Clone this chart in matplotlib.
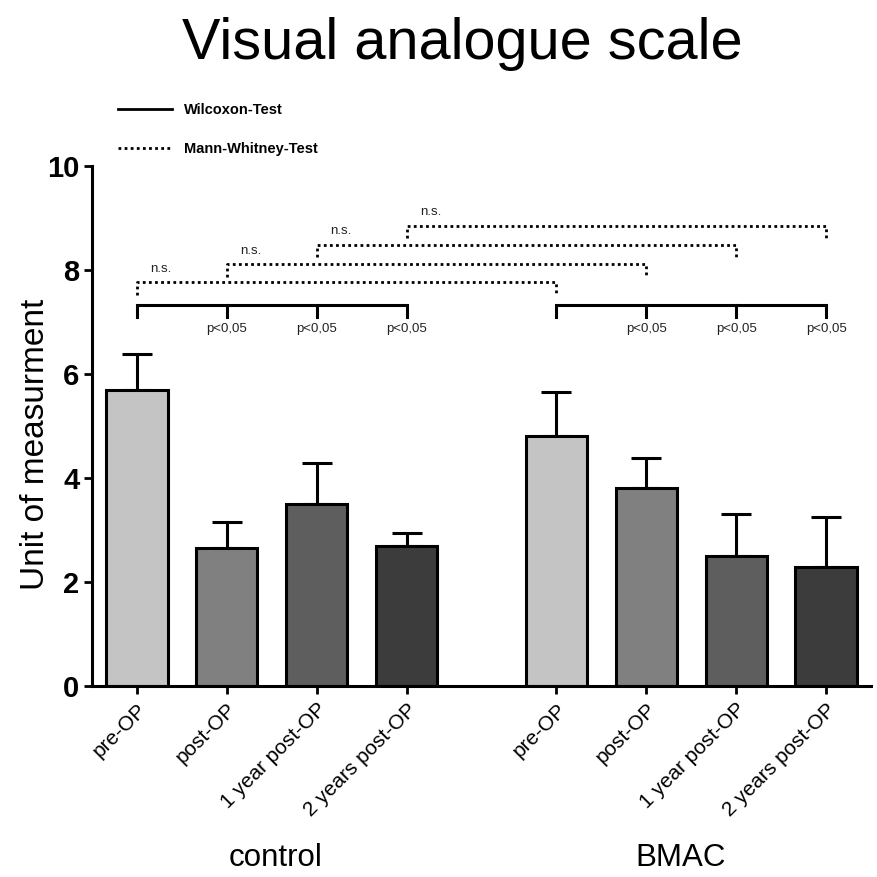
import numpy as np
import matplotlib
matplotlib.use("Agg")
import matplotlib.pyplot as plt
from matplotlib.lines import Line2D

plt.rcParams['font.family'] = ['Liberation Sans', 'DejaVu Sans']

# data
categories = ["pre-OP", "post-OP", "1 year post-OP", "2 years post-OP"]
groups = ["control", "BMAC"]
control_mean = [5.70, 2.65, 3.50, 2.70]
control_err = [0.68, 0.51, 0.78, 0.24]
bmac_mean = [4.80, 3.80, 2.50, 2.29]
bmac_err = [0.85, 0.58, 0.81, 0.96]
bar_colors = ["#c4c4c4", "#808080", "#5e5e5e", "#3c3c3c"]

wilcoxon_label = "p<0,05"
mann_label = "n.s."

fig = plt.figure(figsize=(8.78, 8.77), dpi=100)
ax = fig.add_axes([92/878, 1-686/877, (871-92)/878, (686-166)/877])

x_c = np.arange(4)
x_b = np.arange(4) + 4 + 2/3
w = 0.68

for xs, means, errs in [(x_c, control_mean, control_err), (x_b, bmac_mean, bmac_err)]:
    ax.errorbar(xs, means, yerr=[np.zeros(4), errs], fmt='none', ecolor='black',
                elinewidth=2.2, capsize=11, capthick=2.2, zorder=1)
    ax.bar(xs, means, width=w, color=bar_colors, edgecolor='black', linewidth=2.2, zorder=2)

ax.set_xlim(-0.5, x_b[-1] + 0.5)
ax.set_ylim(0, 10)
ax.set_yticks([0, 2, 4, 6, 8, 10])
ax.set_yticklabels(["0", "2", "4", "6", "8", "10"], fontsize=21, fontweight='bold')
ax.set_xticks(np.concatenate([x_c, x_b]))
ax.set_xticklabels(categories + categories, rotation=45, ha='right',
                   rotation_mode='anchor', fontsize=15)
ax.tick_params(axis='y', width=2, length=6, pad=3)
ax.tick_params(axis='x', width=2, length=6, pad=4)
for s in ['top', 'right']:
    ax.spines[s].set_visible(False)
for s in ['left', 'bottom']:
    ax.spines[s].set_linewidth(2.2)

# Wilcoxon brackets (solid)
wy = 7.33
tick = 0.23
for xs in [x_c, x_b]:
    ax.plot([xs[0], xs[-1]], [wy, wy], color='black', lw=2.2, clip_on=False,
            solid_capstyle='butt')
    for xi in xs:
        ax.plot([xi, xi], [wy, wy - tick], color='black', lw=2.2, clip_on=False)
    for xi in xs[1:]:
        ax.text(xi, 6.86, wilcoxon_label, ha='center', va='center', fontsize=9.5,
                color='#222222')

# Mann-Whitney brackets (dotted)
my = [7.76, 8.11, 8.49, 8.85]
for i in range(4):
    y = my[i]
    ax.plot([x_c[i], x_c[i], x_b[i], x_b[i]], [y - 0.24, y, y, y - 0.24],
            color='black', lw=2, linestyle=(0, (1, 1.2)), clip_on=False)
    ax.text(x_c[i] + 0.27, y + 0.26, mann_label, ha='center', va='center',
            fontsize=9.5, color='#222222')

# group labels
for xs, g, dx in zip([x_c, x_b], groups, [0.04, -0.12]):
    ax.text(xs.mean() + dx, -0.330, g, transform=ax.get_xaxis_transform(),
            ha='center', va='center', fontsize=22.5)

fig.text(0.04, 1-444/877, "Unit of measurment", rotation=90, ha='center',
         va='center', fontsize=24)
fig.text(0.526, 1-44/877, "Visual analogue scale", ha='center', va='center',
         fontsize=41.5)

handles = [Line2D([], [], color='black', lw=2),
           Line2D([], [], color='black', lw=2, linestyle=(0, (1, 1.2)))]
leg = ax.legend(handles, ["Wilcoxon-Test", "Mann-Whitney-Test"],
                loc='upper left', bbox_to_anchor=(118/878, 1-103/877),
                bbox_transform=fig.transFigure, frameon=False,
                prop={'weight': 'bold', 'size': 10.5},
                handlelength=3.7, handletextpad=0.8, labelspacing=1.7,
                borderpad=0, borderaxespad=0)

fig.savefig("out.png", dpi=100)
